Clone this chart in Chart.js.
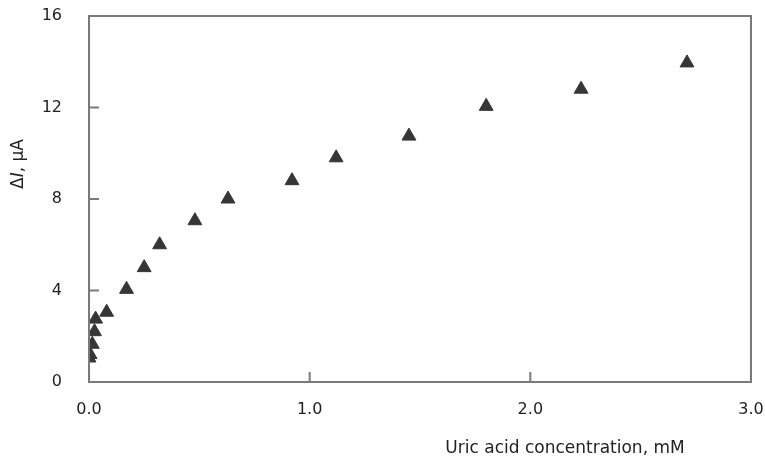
<!DOCTYPE html>
<html>
<head>
<meta charset="utf-8">
<script src="https://cdn.jsdelivr.net/npm/chart.js@4/dist/chart.umd.min.js"></script>
<style>
  html, body { margin: 0; padding: 0; background: #fff; }
  #wrap { width: 765px; height: 459px; }
</style>
</head>
<body>
<div id="wrap"><canvas id="graphique"></canvas></div>
<script>
// Données
const concentration = [0.0, 0.005, 0.015, 0.025, 0.03, 0.08, 0.17, 0.25, 0.32, 0.48, 0.63, 0.92, 1.12, 1.45, 1.80, 2.23, 2.71];
const courant = [1.05, 1.2, 1.65, 2.2, 2.75, 3.05, 4.05, 5.0, 6.0, 7.05, 8.0, 8.8, 9.8, 10.75, 12.05, 12.8, 13.95];
const ticksX = [0, 1, 2, 3];
const ticksY = [0, 4, 8, 12, 16];
const titreX = "Uric acid concentration, mM";
const titreY = ["Δ", "I", ", μA"]; // le I est en italique

const police = "DejaVu Sans, sans-serif";
const couleurAxe = "#7a7a7a";

const points = concentration.map((c, i) => ({ x: c, y: courant[i] }));

// Cadre, petites graduations vers l'intérieur et titres des axes
const cadrePlugin = {
  id: "cadre",
  afterDraw(chart) {
    const ctx = chart.ctx;
    const a = chart.chartArea;
    const sx = chart.scales.x;
    const sy = chart.scales.y;
    ctx.save();
    ctx.strokeStyle = couleurAxe;
    ctx.lineWidth = 2;
    ctx.strokeRect(a.left, a.top, a.right - a.left, a.bottom - a.top);
    ctx.beginPath();
    for (const v of ticksY) {
      const y = sy.getPixelForValue(v);
      ctx.moveTo(a.left, y);
      ctx.lineTo(a.left + 10, y);
    }
    for (const v of ticksX) {
      const x = sx.getPixelForValue(v);
      ctx.moveTo(x, a.bottom);
      ctx.lineTo(x, a.bottom - 10);
    }
    ctx.stroke();

    ctx.fillStyle = "#222";
    ctx.font = "17px " + police;
    ctx.textBaseline = "middle";
    ctx.textAlign = "center";
    ctx.fillText(titreX, 565, 449);

    // titre vertical
    ctx.translate(19, 164);
    ctx.rotate(-Math.PI / 2);
    const fonts = ["17px " + police, "italic 17px " + police, "17px " + police];
    let total = 0;
    titreY.forEach((t, i) => { ctx.font = fonts[i]; total += ctx.measureText(t).width; });
    let x = -total / 2;
    ctx.textAlign = "left";
    titreY.forEach((t, i) => {
      ctx.font = fonts[i];
      ctx.fillText(t, x, 0);
      x += ctx.measureText(t).width;
    });
    ctx.restore();
  }
};

const config = {
  type: "scatter",
  data: {
    datasets: [{
      data: points,
      pointStyle: "triangle",
      pointRadius: 8,
      backgroundColor: "#363636",
      borderColor: "#363636",
      borderWidth: 1
    }]
  },
  options: {
    responsive: true,
    maintainAspectRatio: false,
    animation: false,
    layout: { padding: { top: 16, right: 14, left: 0, bottom: 0 } },
    plugins: { legend: { display: false }, tooltip: { enabled: false } },
    scales: {
      x: {
        type: "linear",
        min: 0, max: 3,
        afterBuildTicks: s => { s.ticks = ticksX.map(v => ({ value: v })); },
        afterFit: s => { s.height = 77; s.paddingLeft = 0; s.paddingRight = 0; },
        grid: { display: false, drawTicks: false },
        border: { display: false },
        ticks: {
          padding: 18,
          color: "#222",
          font: { family: police, size: 16 },
          callback: v => v.toFixed(1)
        }
      },
      y: {
        type: "linear",
        min: 0, max: 16,
        afterBuildTicks: s => { s.ticks = ticksY.map(v => ({ value: v })); },
        afterFit: s => { s.width = 89; s.paddingTop = 0; s.paddingBottom = 0; },
        grid: { display: false, drawTicks: false },
        border: { display: false },
        ticks: {
          padding: 27,
          color: "#222",
          font: { family: police, size: 16 }
        }
      }
    }
  },
  plugins: [cadrePlugin]
};

new Chart(document.querySelector("#graphique"), config);
</script>
</body>
</html>
